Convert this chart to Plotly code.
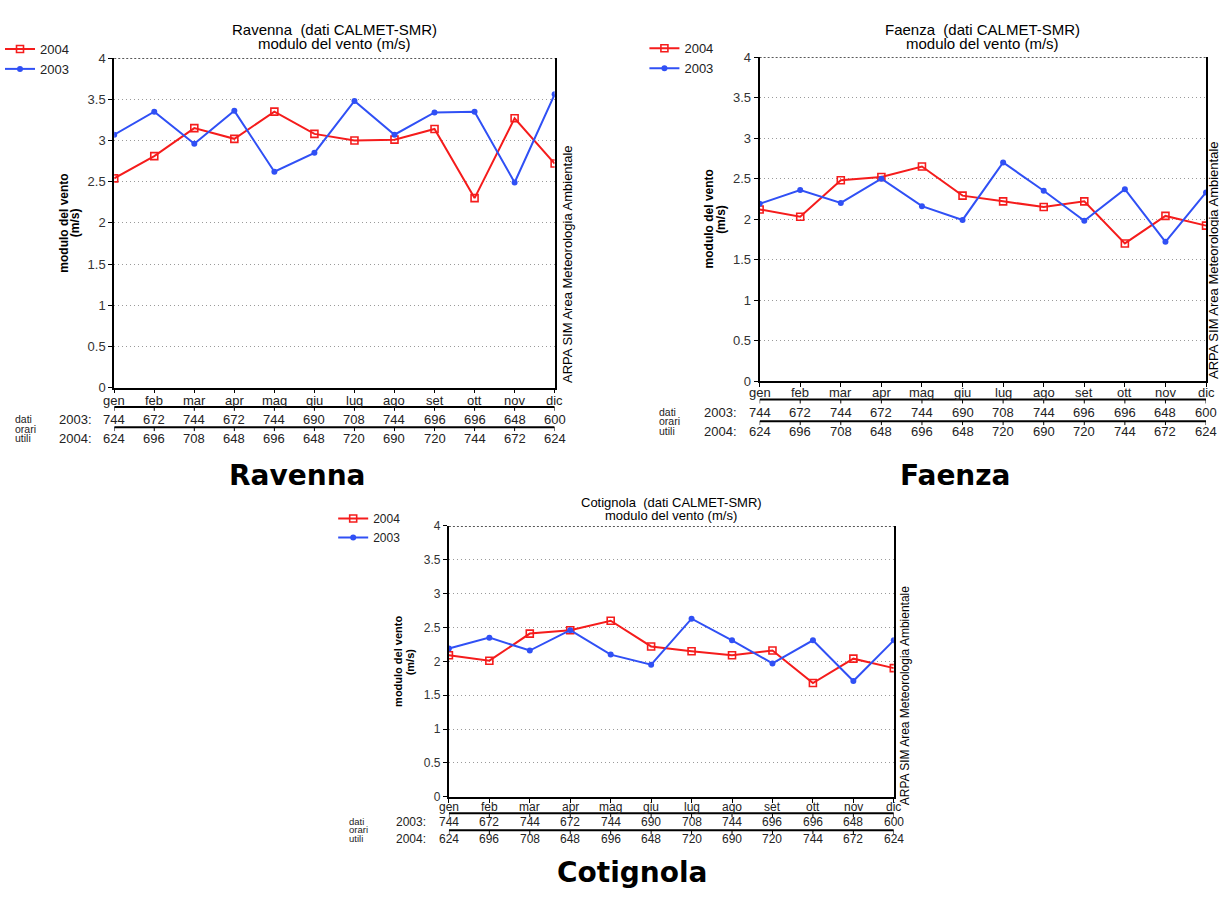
import plotly.graph_objects as go

W, H = 1219, 897

months = ['gen', 'feb', 'mar', 'apr', 'mag', 'giu', 'lug', 'ago', 'set', 'ott', 'nov', 'dic']
ore_2003 = [744, 672, 744, 672, 744, 690, 708, 744, 696, 696, 648, 600]
ore_2004 = [624, 696, 708, 648, 696, 648, 720, 690, 720, 744, 672, 624]

ravenna_2003 = [3.07, 3.35, 2.96, 3.36, 2.62, 2.85, 3.48, 3.07, 3.34, 3.35, 2.49, 3.56]
ravenna_2004 = [2.54, 2.81, 3.15, 3.02, 3.35, 3.08, 3.00, 3.01, 3.14, 2.30, 3.27, 2.72]

faenza_2003 = [2.19, 2.36, 2.20, 2.50, 2.16, 1.99, 2.70, 2.35, 1.98, 2.37, 1.72, 2.33]
faenza_2004 = [2.12, 2.03, 2.48, 2.52, 2.65, 2.29, 2.22, 2.15, 2.22, 1.70, 2.04, 1.92]

cotignola_2003 = [2.19, 2.35, 2.16, 2.46, 2.10, 1.95, 2.63, 2.31, 1.97, 2.31, 1.71, 2.31]
cotignola_2004 = [2.09, 2.01, 2.41, 2.46, 2.60, 2.22, 2.15, 2.09, 2.16, 1.68, 2.04, 1.90]

y_ticks = [0, 0.5, 1, 1.5, 2, 2.5, 3, 3.5, 4]
y_ticktext = ['0', '0.5', '1', '1.5', '2', '2.5', '3', '3.5', '4']

RED = '#f51c1c'
BLUE = '#3050f5'
FONT = 'Liberation Sans'


def xp(px):
    return px / W


def yp(py):
    return 1 - py / H


panels = [
    dict(name='Ravenna', s2003=ravenna_2003, s2004=ravenna_2004,
         L=111.5, R=553, T=52, B=387, fs=13, tfs=15,
         off=dict(month=13, line1=19.7, row03=33, line2=40.3, row04=52.3, dati=32.5, orari=42, utili=51.5),
         dati_x=10, yr_x=91, leg_x=-3, leg_y=27.5, arpa_x=566,
         title_y=(23, 37), big=(295, 476)),
    dict(name='Faenza', s2003=faenza_2003, s2004=faenza_2004,
         L=758.5, R=1206, T=51, B=380.5, fs=13, tfs=15,
         off=dict(month=11.7, line1=18.7, row03=31.7, line2=40.7, row04=51.7, dati=31.5, orari=41, utili=50.5),
         dati_x=656, yr_x=738, leg_x=643, leg_y=26.8, arpa_x=1214,
         title_y=(22.7, 36.7), big=(955, 476)),
    dict(name='Cotignola', s2003=cotignola_2003, s2004=cotignola_2004,
         L=447, R=893, T=527.7, B=803.3, fs=12, tfs=13,
         off=dict(month=10, line1=16.7, row03=26, line2=34, row04=42.7, dati=25.5, orari=33.5, utili=42),
         dati_x=345, yr_x=426, leg_x=331, leg_y=505.5, arpa_x=904,
         title_y=(504, 516.7), big=(631, 880)),
]

fig = go.Figure()
annotations = []
shapes = []
layout_axes = {}

for i, p in enumerate(panels):
    k = '' if i == 0 else str(i + 1)
    xa, ya = 'x' + k, 'y' + k
    leg = 'legend' + k
    x_idx = list(range(len(months)))

    fig.add_trace(go.Scatter(
        x=x_idx, y=p['s2004'], xaxis=xa, yaxis=ya, name='2004', legend=leg,
        mode='lines+markers', line=dict(color=RED, width=2),
        marker=dict(symbol='square-open', size=7, color=RED, line=dict(width=1.6, color=RED)),
    ))
    fig.add_trace(go.Scatter(
        x=x_idx, y=p['s2003'], xaxis=xa, yaxis=ya, name='2003', legend=leg,
        mode='lines+markers', line=dict(color=BLUE, width=2),
        marker=dict(symbol='circle', size=6, color=BLUE),
    ))

    fs = p['fs']
    layout_axes['xaxis' + k] = dict(
        domain=[xp(p['L']), xp(p['R'])], anchor=ya, range=[0, len(months) - 1],
        tickmode='array', tickvals=x_idx, showticklabels=False,
        ticks='outside', ticklen=4, tickcolor='black', tickwidth=1,
        showgrid=False, zeroline=False, showline=True, linecolor='black', linewidth=1.5,
        fixedrange=True,
    )
    layout_axes['yaxis' + k] = dict(
        domain=[yp(p['B']), yp(p['T'])], anchor=xa, range=[0, 4],
        tickmode='array', tickvals=y_ticks, ticktext=y_ticktext,
        ticks='outside', ticklen=4, tickcolor='black', tickwidth=1,
        showgrid=True, gridcolor='#9a9a9a', griddash='1px,3px', gridwidth=1,
        zeroline=False, showline=True, mirror=True, linecolor='black', linewidth=2,
        tickfont=dict(family=FONT, size=fs, color='#333'), fixedrange=True,
    )
    layout_axes[leg] = dict(
        x=xp(p['leg_x']), y=yp(p['leg_y']), xanchor='left', yanchor='top',
        bgcolor='rgba(0,0,0,0)', borderwidth=0, tracegroupgap=0,
        font=dict(family=FONT, size=fs, color='#222'), itemwidth=30,
    )

    # dotted top border at y = 4
    shapes.append(dict(type='line', xref=xa + ' domain', yref=ya, x0=0, x1=1, y0=4, y1=4,
                       line=dict(color='#222', width=1.5, dash='2px,2px')))

    cx = (p['L'] + p['R']) / 2
    annotations.append(dict(text=p['name'] + '  (dati CALMET-SMR)', x=xp(cx), y=yp(p['title_y'][0]),
                            xref='paper', yref='paper', showarrow=False, xanchor='center', yanchor='middle',
                            font=dict(family=FONT, size=p['tfs'], color='black')))
    annotations.append(dict(text='modulo del vento (m/s)', x=xp(cx), y=yp(p['title_y'][1]),
                            xref='paper', yref='paper', showarrow=False, xanchor='center', yanchor='middle',
                            font=dict(family=FONT, size=p['tfs'], color='black')))
    ymid = yp((p['T'] + p['B']) / 2)
    annotations.append(dict(text='<b>modulo del vento</b>', x=xp(p['L'] - 50.5), y=ymid,
                            xref='paper', yref='paper', showarrow=False,
                            textangle=-90, xanchor='center', yanchor='middle',
                            font=dict(family=FONT, size=fs - 1, color='black')))
    annotations.append(dict(text='<b>(m/s)</b>', x=xp(p['L'] - 39), y=ymid,
                            xref='paper', yref='paper', showarrow=False,
                            textangle=-90, xanchor='center', yanchor='middle',
                            font=dict(family=FONT, size=fs - 1, color='black')))
    annotations.append(dict(text='ARPA SIM Area Meteorologia Ambientale', x=xp(p['arpa_x']),
                            y=yp(p['T'] + (p['B'] - p['T']) * 0.626), xref='paper', yref='paper', showarrow=False,
                            textangle=-90, xanchor='center', yanchor='middle',
                            font=dict(family=FONT, size=fs, color='black')))
    annotations.append(dict(text='<b>' + p['name'] + '</b>', x=xp(p['big'][0]), y=yp(p['big'][1]),
                            xref='paper', yref='paper', showarrow=False, xanchor='center', yanchor='middle',
                            font=dict(family='DejaVu Sans', size=28, color='black')))

    off = p['off']
    B = p['B']
    # month labels
    for j, m in enumerate(months):
        annotations.append(dict(text=m, x=j, xref=xa, y=yp(B + off['month']), yref='paper',
                                showarrow=False, xanchor='center', yanchor='middle',
                                font=dict(family=FONT, size=fs, color='#222')))
    # table of hourly data
    for row_key, lbl, vals in (('row03', '2003:', ore_2003), ('row04', '2004:', ore_2004)):
        annotations.append(dict(text=lbl, x=xp(p['yr_x']), y=yp(B + off[row_key]), xref='paper', yref='paper',
                                showarrow=False, xanchor='right', yanchor='middle',
                                font=dict(family=FONT, size=fs, color='#222')))
        for j, v in enumerate(vals):
            annotations.append(dict(text=str(v), x=j, xref=xa, y=yp(B + off[row_key]), yref='paper',
                                    showarrow=False, xanchor='center', yanchor='middle',
                                    font=dict(family=FONT, size=fs, color='#222')))
    for lab in ('dati', 'orari', 'utili'):
        annotations.append(dict(text=lab, x=xp(p['dati_x']), y=yp(B + off[lab]), xref='paper', yref='paper',
                                showarrow=False, xanchor='left', yanchor='middle',
                                font=dict(family=FONT, size=fs - 2.5, color='#222')))
    for line_key in ('line1', 'line2'):
        ly = yp(B + off[line_key])
        shapes.append(dict(type='line', xref=xa, yref='paper', x0=0, x1=len(months) - 1, y0=ly, y1=ly,
                           line=dict(color='black', width=2)))
        for j in range(len(months)):
            shapes.append(dict(type='line', xref=xa, yref='paper', x0=j, x1=j, y0=ly, y1=yp(B + off[line_key] + 4),
                               line=dict(color='black', width=1)))

fig.update_layout(
    width=W, height=H, margin=dict(l=0, r=0, t=0, b=0),
    paper_bgcolor='white', plot_bgcolor='white',
    annotations=annotations, shapes=shapes, showlegend=True,
    **layout_axes,
)

fig.write_html('out.html')
